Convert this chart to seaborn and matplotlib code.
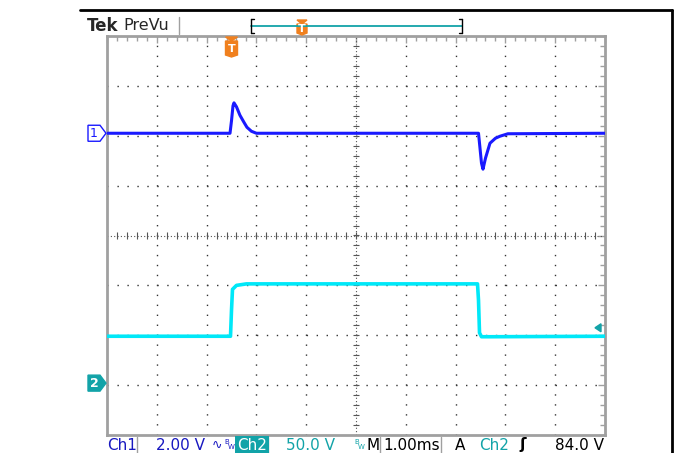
import numpy as np
import matplotlib
matplotlib.use("Agg")
import matplotlib.pyplot as plt
import seaborn as sns
from matplotlib.lines import Line2D
from matplotlib.patches import Polygon
from matplotlib.ticker import MultipleLocator

# scope traces, in divisions (x: 1 div = 1.00 ms, y: centre = 0)
ch1_t = [-5.0, -2.53, -2.50, -2.47, -2.45, -2.40, -2.33, -2.25, -2.19, -2.10, -2.00, 2.46, 2.49, 2.52, 2.55, 2.60, 2.69, 2.80, 2.89, 3.05, 5.0]
ch1_v = [2.05, 2.05, 2.30, 2.60, 2.66, 2.58, 2.41, 2.27, 2.17, 2.09, 2.05, 2.05, 1.75, 1.45, 1.33, 1.55, 1.85, 1.95, 1.99, 2.04, 2.05]
ch2_t = [-5.0, -2.52, -2.50, -2.48, -2.40, -2.20, 2.44, 2.46, 2.48, 2.52, 2.70, 5.0]
ch2_v = [-2.02, -2.02, -1.50, -1.08, -1.00, -0.97, -0.97, -1.30, -1.95, -2.03, -2.03, -2.02]

ch1_ref = 2.05    # ground marker 1
ch2_ref = -2.96   # ground marker 2
trig_level = -1.85
trig_pos = -2.50

status = ["Ch1", "2.00 V", "Ch2", "50.0 V", "M", "1.00ms", "A", "Ch2", "84.0 V"]

BLUE = "#1a1aff"
CYAN = "#00e8f8"
TEAL = "#12a3a8"
TXTBLUE = "#1818c0"
ORANGE = "#f0801e"
GRAY = "#a0a0a0"

W, H = 683, 453

sns.set_style("white")
plt.rcParams["font.family"] = ["DejaVu Sans"]

fig = plt.figure(figsize=(W / 100, H / 100), dpi=100)
ax = fig.add_axes([107 / W, 1 - 435 / H, 498 / W, 399 / H])


def px(x, y):
    return x / W, 1 - y / H


# grid
for gx in range(-4, 5):
    if gx == 0:
        continue
    ax.axvline(gx, color="#333333", lw=1, ls=(0, (1, 6.17)), zorder=1)
for gy in range(-3, 4):
    if gy == 0:
        continue
    ax.axhline(gy, color="#333333", lw=1, ls=(0, (1, 6.17)), zorder=1)
ax.axvline(0, color="#555555", lw=0.8, ls=(0, (1, 2)), zorder=1)
ax.axhline(0, color="#555555", lw=0.8, ls=(0, (1, 2)), zorder=1)
ticks_x = np.arange(-5, 5.001, 0.2)
ticks_y = np.arange(-4, 4.001, 0.2)
ax.vlines(ticks_x, -0.07, 0.07, color="#555555", lw=0.8, zorder=1)
ax.hlines(ticks_y, -0.07, 0.07, color="#555555", lw=0.8, zorder=1)

# traces
sns.lineplot(x=ch1_t, y=ch1_v, color=BLUE, lw=2.2, ax=ax, zorder=3)
sns.lineplot(x=ch2_t, y=ch2_v, color=CYAN, lw=2.6, ax=ax, zorder=3)

ax.set_xlim(-5, 5)
ax.set_ylim(-4, 4)
ax.xaxis.set_major_locator(MultipleLocator(1))
ax.yaxis.set_major_locator(MultipleLocator(1))
ax.xaxis.set_minor_locator(MultipleLocator(0.2))
ax.yaxis.set_minor_locator(MultipleLocator(0.2))
ax.tick_params(which="both", direction="in", top=True, right=True,
               labelbottom=False, labelleft=False, color=GRAY)
ax.tick_params(which="major", length=5, width=1)
ax.tick_params(which="minor", length=3.5, width=1)
ax.set_xlabel("")
ax.set_ylabel("")
for s in ax.spines.values():
    s.set_color(GRAY)
    s.set_linewidth(2)

# frame lines
fig.add_artist(Line2D([80 / W, 672 / W], [1 - 10 / H] * 2, color="black", lw=2))
fig.add_artist(Line2D([672 / W] * 2, [1 - 10 / H, 0], color="black", lw=2))

# header
fig.text(*px(87, 26), "Tek", fontsize=12, fontweight="bold", va="center", ha="left")
fig.text(*px(123, 25), "PreVu", fontsize=11.5, va="center", ha="left")
fig.add_artist(Line2D([179 / W] * 2, [1 - 17 / H, 1 - 34 / H], color=GRAY, lw=1))
fig.add_artist(Line2D([251 / W, 462 / W], [1 - 26 / H] * 2, color=TEAL, lw=1.3))
for bx in (251, 462):
    fig.add_artist(Line2D([bx / W] * 2, [1 - 19 / H, 1 - 33 / H], color="black", lw=1))
for x0, x1 in ((251, 254), (459, 462)):
    for by in (19, 33):
        fig.add_artist(Line2D([x0 / W, x1 / W], [1 - by / H] * 2, color="black", lw=1))


def t_marker(cx, top, h, hw=5):
    fig.add_artist(Polygon([px(cx - hw, top), px(cx + hw, top), px(cx, top + 4)],
                           closed=True, color=ORANGE, transform=fig.transFigure))
    fig.add_artist(Polygon([px(cx - hw, top + 4), px(cx + hw, top + 4), px(cx + hw, top + h),
                            px(cx, top + h + 2), px(cx - hw, top + h)],
                           closed=True, color=ORANGE, transform=fig.transFigure))
    fig.text(*px(cx, top + 4 + (h - 4) / 2 + 0.5), "T", color="white", fontsize=8,
             fontweight="bold", ha="center", va="center")


t_marker(302, 20, 13)
tx = ax.transData.transform((trig_pos, 0))[0]
t_marker(tx, 37, 18, hw=6)

# channel ground markers
y1 = H - ax.transData.transform((0, ch1_ref))[1]
y2 = H - ax.transData.transform((0, ch2_ref))[1]
fig.add_artist(Polygon([px(88, y1 - 8), px(100, y1 - 8), px(106, y1), px(100, y1 + 8), px(88, y1 + 8)],
                       closed=True, fc="white", ec=BLUE, lw=1, transform=fig.transFigure))
fig.text(*px(94, y1 + 0.5), "1", color=BLUE, fontsize=9, ha="center", va="center")
fig.add_artist(Polygon([px(88, y2 - 8), px(100, y2 - 8), px(106, y2), px(100, y2 + 8), px(88, y2 + 8)],
                       closed=True, fc=TEAL, ec=TEAL, lw=1, transform=fig.transFigure))
fig.text(*px(94, y2 + 0.5), "2", color="white", fontsize=9, fontweight="bold", ha="center", va="center")

# trigger level arrow
yl = H - ax.transData.transform((0, trig_level))[1]
fig.add_artist(Polygon([px(595, yl), px(601, yl - 4), px(601, yl + 4)], closed=True,
                       color=TEAL, transform=fig.transFigure))

# status bar
sy = 445
fig.text(*px(107, sy), status[0], color=TXTBLUE, fontsize=11, va="center")
fig.text(*px(156, sy), status[1], color=TXTBLUE, fontsize=11, va="center")
fig.text(*px(212, sy), "\u223f", color=TXTBLUE, fontsize=9, va="center")
fig.text(*px(224, sy - 3), "B", color=TXTBLUE, fontsize=5, va="center")
fig.text(*px(228, sy + 2), "W", color=TXTBLUE, fontsize=5, va="center")
fig.text(*px(252, sy), status[2], color="white", fontsize=11, va="center", ha="center",
         bbox=dict(boxstyle="square,pad=0.12", fc=TEAL, ec="none"))
fig.text(*px(286, sy), status[3], color=TEAL, fontsize=11, va="center")
fig.text(*px(354, sy - 3), "B", color=TEAL, fontsize=5, va="center")
fig.text(*px(358, sy + 2), "W", color=TEAL, fontsize=5, va="center")
fig.text(*px(366, sy), status[4], color="black", fontsize=11, va="center")
fig.text(*px(383, sy), status[5], color="black", fontsize=11, va="center")
fig.text(*px(455, sy), status[6], color="black", fontsize=11, va="center")
fig.text(*px(479, sy), status[7], color=TEAL, fontsize=11, va="center")
fig.text(*px(519, sy), "\u0283", color="black", fontsize=11, fontweight="bold", va="center")
fig.text(*px(604, sy), status[8], color="black", fontsize=11, va="center", ha="right")
for sx in (137, 268, 380, 441):
    fig.add_artist(Line2D([sx / W] * 2, [1 - 437 / H, 0], color=GRAY, lw=1))

fig.savefig("out.png", dpi=100)
